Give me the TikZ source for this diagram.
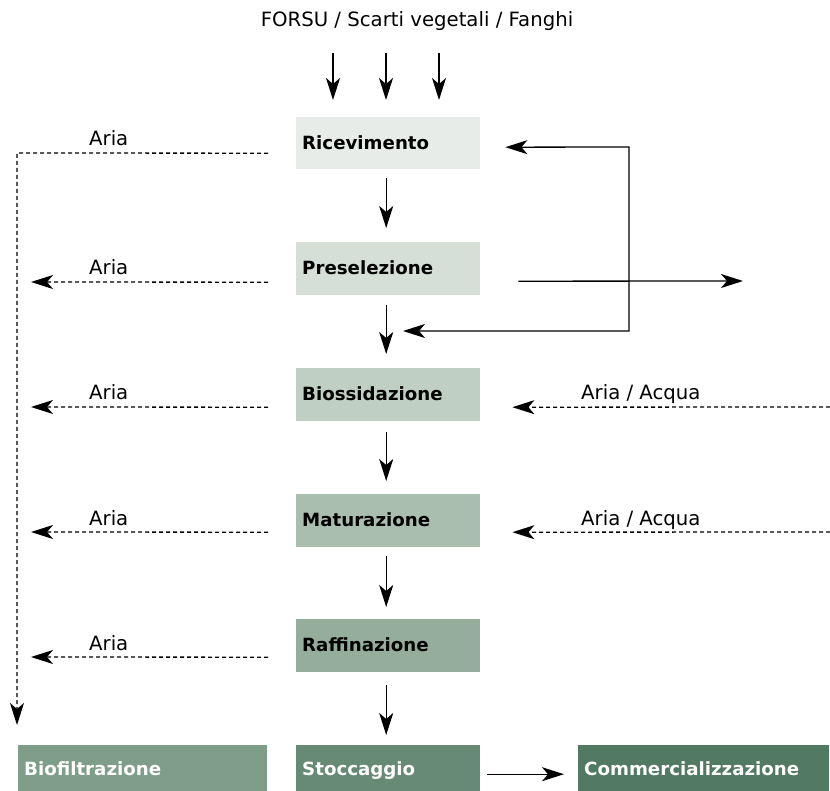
\documentclass[tikz,border=0pt]{standalone}
\usepackage{fontspec}
\setmainfont{DejaVu Sans}
\usetikzlibrary{arrows.meta,calc}
\definecolor{cRec}{HTML}{E8ECE9}
\definecolor{cPre}{HTML}{D5DED7}
\definecolor{cBio}{HTML}{BFCFC3}
\definecolor{cMat}{HTML}{A9BEAE}
\definecolor{cRaf}{HTML}{95AE9B}
\definecolor{cBif}{HTML}{7F9E89}
\definecolor{cSto}{HTML}{678A74}
\definecolor{cCom}{HTML}{527A62}
\tikzset{
  box/.style={rectangle, anchor=north west, minimum height=52pt, text width=172pt,
    inner xsep=6pt, inner ysep=0pt, align=left, text height=13pt, text depth=1pt,
    font=\fontsize{18.2}{20}\selectfont\bfseries},
  lowbox/.style={box, text=white, minimum height=46pt, text height=15pt, text depth=0pt},
  lbl/.style={font=\fontsize{19.7}{22}\selectfont, inner sep=0pt},
  tip/.tip={Stealth[length=22pt,width=14pt,inset=6pt]},
  arr/.style={line width=1.3pt, -tip},
  darr/.style={arr, dash pattern=on 4pt off 3pt},
  dline/.style={line width=1.3pt, dash pattern=on 4pt off 3pt},
}
\begin{document}
\begin{tikzpicture}[x=1pt,y=-1pt]
\useasboundingbox (0,0) rectangle (830,791);
% boxes
\node[box, fill=cRec] (rec) at (296,117) {Ricevimento};
\node[box, fill=cPre, minimum height=53pt] (pre) at (296,242) {Preselezione};
\node[box, fill=cBio, minimum height=53pt] (bio) at (296,368) {Biossidazione};
\node[box, fill=cMat, minimum height=53pt] (mat) at (296,494) {Maturazione};
\node[box, fill=cRaf, minimum height=53pt] (raf) at (296,619) {Raffinazione};
\node[lowbox, fill=cBif, text width=237pt] (bif) at (18,745) {Biofiltrazione};
\node[lowbox, fill=cSto] (sto) at (296,745) {Stoccaggio};
\node[lowbox, fill=cCom, text width=239pt] (com) at (578,745) {Commercializzazione};
% title and inputs
\node[lbl] (src) at (417,21) {FORSU / Scarti vegetali / Fanghi};
\coordinate (in1) at (333,53);
\coordinate (in2) at (386,53);
\coordinate (in3) at (439,53);
\draw[arr] (in1) -- ($(in1 |- rec.north)+(0,-17)$);
\draw[arr] (in2) -- ($(in2 |- rec.north)+(0,-17)$);
\draw[arr] (in3) -- ($(in3 |- rec.north)+(0,-17)$);
% main vertical arrows
\draw[arr] ($(rec.south)+(-2,9)$) -- ($(pre.north)+(-2,-14)$);
\draw[arr] ($(pre.south)+(-2,10)$) -- ($(bio.north)+(-2,-14)$);
\draw[arr] ($(bio.south)+(-2,11)$) -- ($(mat.north)+(-2,-13)$);
\draw[arr] ($(mat.south)+(-2,9)$) -- ($(raf.north)+(-2,-12)$);
\draw[arr] ($(raf.south)+(-2,13)$) -- ($(sto.north)+(-2,-10)$);
\draw[arr] ($(sto.east)+(7,6)$) -- ($(com.west)+(-14,6)$);
% recirculation loop
\coordinate (lp1) at (629,147);
\coordinate (lp2) at (629,331);
\draw[line width=1.3pt, tip-tip, line join=miter] ($(rec.east)+(25,4)$) -- (lp1) -- (lp2) -- (403,331);
\coordinate (out) at (743,281);
\draw[arr] ($(pre.east)+(38,12.5)$) -- (out);
% left air lines
\coordinate (cor) at (17,153);
\coordinate (bif-in) at (17,725);
\draw[darr] ($(rec.west)+(-28,10)$) -- (cor) -- (bif-in);
\coordinate (a2) at (31,282);
\coordinate (a3) at (31,407);
\coordinate (a4) at (31,532);
\coordinate (a5) at (31,657);
\draw[darr] ($(pre.west)+(-28,13.5)$) -- (a2);
\draw[darr] ($(bio.west)+(-28,12.5)$) -- (a3);
\draw[darr] ($(mat.west)+(-28,11.5)$) -- (a4);
\draw[darr] ($(raf.west)+(-28,11.5)$) -- (a5);
\node[lbl, anchor=base west] (l1) at (89,146) {Aria};
\node[lbl, anchor=base west] (l2) at (89,275) {Aria};
\node[lbl, anchor=base west] (l3) at (89,400) {Aria};
\node[lbl, anchor=base west] (l4) at (89,525) {Aria};
\node[lbl, anchor=base west] (l5) at (89,650) {Aria};
% right water/air lines
\coordinate (r3) at (830,407);
\coordinate (r4) at (830,532);
\draw[darr] (r3) -- ($(bio.east)+(32,12.5)$);
\draw[darr] (r4) -- ($(mat.east)+(32,11.5)$);
\node[lbl, anchor=base west] (w3) at (581,400) {Aria / Acqua};
\node[lbl, anchor=base west] (w4) at (581,525) {Aria / Acqua};
\end{tikzpicture}
\end{document}
